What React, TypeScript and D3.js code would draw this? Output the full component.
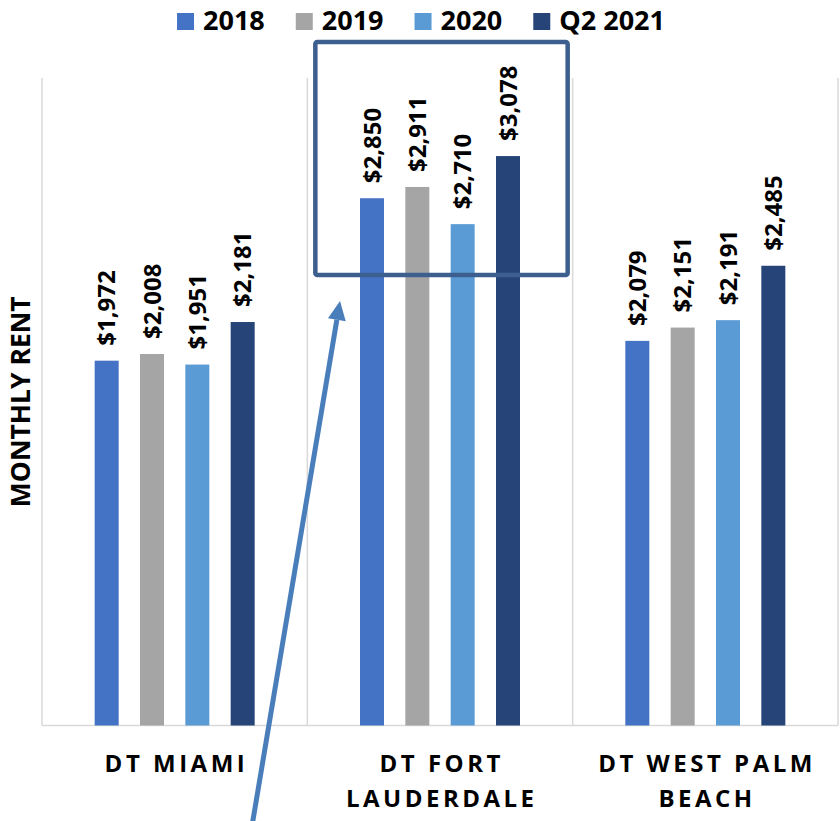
import React from "react";
import * as d3 from "d3";

const categories = ["DT MIAMI", "DT FORT|LAUDERDALE", "DT WEST PALM|BEACH"];
const seriesNames = ["2018", "2019", "2020", "Q2 2021"];
const seriesColors = ["#4472C4", "#A5A5A5", "#5B9BD5", "#264478"];
const rent2018 = [1972, 2850, 2079];
const rent2019 = [2008, 2911, 2151];
const rent2020 = [1951, 2710, 2191];
const rentQ22021 = [2181, 3078, 2485];
const seriesValues = [rent2018, rent2019, rent2020, rentQ22021];
const yDomain = [0, 3500];
const yTitle = "MONTHLY RENT";

const W = 840;
const H = 821;
const plot = { left: 42, right: 838, top: 78, bottom: 725.5 };
const FONT = "'Open Sans', 'DejaVu Sans', sans-serif";

function measure(text: string, font: string): number {
  const c = document.createElement("canvas").getContext("2d");
  if (!c) return text.length * 15;
  c.font = font;
  return c.measureText(text).width;
}

export default function App() {
  const x0 = d3.scaleBand<string>().domain(categories).range([plot.left, plot.right]).padding(0);
  const y = d3.scaleLinear().domain(yDomain).range([plot.bottom, plot.top]);
  const bw = x0.bandwidth();
  const x1 = d3
    .scaleBand<string>()
    .domain(seriesNames)
    .range([bw / 2 - 80, bw / 2 + 80])
    .paddingInner(0.4706)
    .paddingOuter(0);

  // legend layout
  const legendFont = `700 27px ${FONT}`;
  const sw = 17;
  const gapSwText = 9;
  const gapItems = 31;
  const widths = seriesNames.map((s) => measure(s, legendFont));
  const total = widths.reduce((a, b) => a + b, 0) + seriesNames.length * (sw + gapSwText) + gapItems * (seriesNames.length - 1);
  let cursor = 421 - total / 2;
  const legendItems = seriesNames.map((s, i) => {
    const item = { name: s, x: cursor, color: seriesColors[i] };
    cursor += sw + gapSwText + widths[i] + gapItems;
    return item;
  });

  const gridXs = [plot.left, ...categories.map((c) => (x0(c) as number) + bw)];

  // highlight box around Fort Lauderdale
  const flX = x0(categories[1]) as number;
  const box = { x: flX + 8, y: 42, w: bw - 13, h: 233 };
  // arrow
  const tip = { x: 340, y: 301 };
  const tail = { x: 252, y: 826 };
  const ang = Math.atan2(tail.y - tip.y, tail.x - tip.x);
  const headLen = 19;
  const headHalf = 9;
  const bx = tip.x + Math.cos(ang) * headLen;
  const by = tip.y + Math.sin(ang) * headLen;
  const px = -Math.sin(ang);
  const py = Math.cos(ang);
  const head = `${tip.x},${tip.y} ${bx + px * headHalf},${by + py * headHalf} ${bx - px * headHalf},${by - py * headHalf}`;

  return (
    <svg
      width={W}
      height={H}
      style={{ position: "absolute", left: 0, top: 0, background: "#fff" }}
      fontFamily={FONT}
    >
      {/* gridlines */}
      {gridXs.map((gx, i) => (
        <line key={"g" + i} x1={gx} x2={gx} y1={plot.top} y2={plot.bottom} stroke="#D9D9D9" strokeWidth={1.5} />
      ))}
      <line x1={plot.left} x2={plot.right} y1={plot.bottom} y2={plot.bottom} stroke="#D9D9D9" strokeWidth={1.5} />

      {/* bars */}
      {categories.map((c, ci) => (
        <g key={c} transform={`translate(${x0(c)},0)`}>
          {seriesNames.map((s, si) => {
            const v = seriesValues[si][ci];
            const bx0 = x1(s) as number;
            return (
              <g key={s}>
                <rect x={bx0} y={y(v)} width={x1.bandwidth()} height={plot.bottom - y(v)} fill={seriesColors[si]} />
                <text
                  transform={`translate(${bx0 + x1.bandwidth() / 2},${y(v) - 15}) rotate(-90)`}
                  dy="0.36em"
                  fontSize={24}
                  fontWeight={700}
                  fill="#000"
                >
                  {d3.format("$,")(v)}
                </text>
              </g>
            );
          })}
        </g>
      ))}

      {/* category labels */}
      {categories.map((c) => {
        const lines = c.split("|");
        const cx = (x0(c) as number) + bw / 2;
        return (
          <text key={"l" + c} textAnchor="middle" fontSize={24} fontWeight={700} letterSpacing={3.5} fill="#000">
            {lines.map((ln, li) => (
              <tspan key={li} x={cx + 1.75} y={772 + li * 35}>
                {ln}
              </tspan>
            ))}
          </text>
        );
      })}

      {/* y title */}
      <text
        transform={`translate(20,${(plot.top + plot.bottom) / 2}) rotate(-90)`}
        dy="0.36em"
        textAnchor="middle"
        fontSize={26.5}
        fontWeight={700}
        fill="#000"
      >
        {yTitle}
      </text>

      {/* legend */}
      {legendItems.map((it) => (
        <g key={it.name}>
          <rect x={it.x} y={13} width={sw} height={17} fill={it.color} />
          <text x={it.x + sw + gapSwText} y={30} fontSize={27} fontWeight={700} fill="#000">
            {it.name}
          </text>
        </g>
      ))}

      {/* highlight box */}
      <rect x={box.x} y={box.y} width={box.w} height={box.h} fill="none" stroke="#3D5F8F" strokeWidth={4.5} rx={2} />

      {/* arrow */}
      <line x1={tail.x} y1={tail.y} x2={bx} y2={by} stroke="#4A7EBB" strokeWidth={5} />
      <polygon points={head} fill="#4A7EBB" />
    </svg>
  );
}
